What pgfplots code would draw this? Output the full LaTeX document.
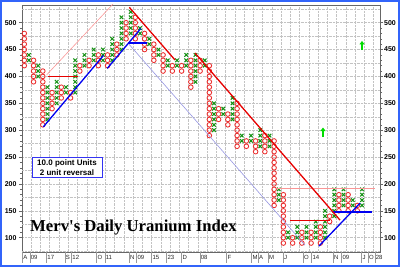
\documentclass[border=0pt]{standalone}
\usepackage{pgfplots}
\pgfplotsset{compat=1.18}
\usepackage{fontspec}
\setmainfont{Liberation Sans}
\newfontfamily\titlefont{Liberation Serif}
\usetikzlibrary{arrows.meta}
\definecolor{xgreen}{RGB}{20,145,20}
\definecolor{ored}{RGB}{235,45,45}
\definecolor{tred}{RGB}{230,0,0}
\definecolor{tblue}{RGB}{0,0,240}
\definecolor{lav}{RGB}{150,150,225}
\definecolor{pinkl}{RGB}{250,150,150}
\definecolor{frameblue}{RGB}{50,100,250}
\definecolor{gridc}{RGB}{195,195,195}
\definecolor{arrowg}{RGB}{0,220,0}
\tikzset{
  sepline/.style={draw=black!40, line width=0.5pt},
  datelab/.style={font=\fontsize{6}{6}\selectfont, anchor=west, inner sep=0.6pt, text=black!85},
  rlab/.style={font=\bfseries\fontsize{7}{7}\selectfont, anchor=west, inner sep=0pt},
}
\begin{document}
\begin{tikzpicture}
\begin{axis}[
  scale only axis,
  width=358pt, height=247pt,
  xmin=0.503, xmax=77.89, ymin=73.4, ymax=532.9,
  clip mode=individual,
  axis line style={draw=black!60, line width=0.6pt},
  xtick={0.5,2.5,...,76.5}, xticklabels={}, xtick style={draw=none},
  xmajorgrids, ymajorgrids,
  major grid style={gridc, densely dotted, line width=0.5pt},
  ytick={100,150,...,500}, minor y tick num=4,
  extra y ticks={75,125,...,525}, extra y tick labels={},
  extra y tick style={grid=major, tick style={draw=none}},
  tick align=outside, major tick length=3pt, minor tick length=2pt,
  tick style={black!60, line width=0.5pt},
  yticklabel pos=left,
  /pgf/number format/assume math mode=true,
  yticklabel style={font=\bfseries\fontsize{7}{7}\selectfont, xshift=1pt},
]
% O columns
\addplot[only marks, mark=o, mark size=2.3pt, mark options={ored, line width=0.85pt}] coordinates {
(1,420)(1,430)(1,440)(1,450)(1,460)(1,470)(1,480)
(3,390)(3,400)(3,410)(3,420)(3,430)
(5,310)(5,320)(5,330)(5,340)(5,350)(5,360)(5,370)(5,380)(5,390)(5,400)(5,410)
(7,340)(7,350)(7,360)(7,370)
(9,360)(9,370)(9,380)
(11,360)(11,370)
(13,410)(13,420)
(15,420)(15,430)
(17,420)(17,430)(17,440)
(19,420)(19,430)(19,440)
(21,440)(21,450)(21,460)
(23,470)(23,480)(23,490)(23,500)
(25,470)(25,480)(25,490)(25,500)(25,510)
(27,450)(27,460)(27,470)(27,480)
(29,430)(29,440)(29,450)(29,460)
(31,410)(31,420)(31,430)(31,440)
(33,410)(33,420)
(35,410)(35,420)
(37,380)(37,390)(37,400)(37,410)(37,420)(37,430)
(39,410)(39,420)(39,430)
(41,290)(41,300)(41,310)(41,320)(41,330)(41,340)(41,350)(41,360)(41,370)(41,380)(41,390)(41,400)(41,410)(41,420)
(43,320)(43,330)(43,340)
(45,310)(45,320)(45,330)
(47,270)(47,280)(47,290)(47,300)(47,310)(47,320)(47,330)(47,340)(47,350)
(49,270)(49,280)
(51,260)(51,270)(51,280)
(53,260)(53,270)(53,280)(53,290)
(55,160)(55,170)(55,180)(55,190)(55,200)(55,210)(55,220)(55,230)(55,240)(55,250)(55,260)(55,270)(55,280)
(57,90)(57,100)(57,110)(57,120)(57,130)(57,140)(57,150)(57,160)(57,170)(57,180)
(59,90)(59,100)
(61,90)(61,100)(61,110)
(63,90)(63,100)(63,110)
(65,90)(65,100)(65,110)(65,120)
(67,130)(67,140)
(69,150)(69,160)(69,170)(69,180)
(71,150)(71,160)(71,170)(71,180)
(73,150)(73,160)
};
% X columns
\addplot[only marks, mark=x, mark size=2.5pt, mark options={xgreen, line width=1.05pt}] coordinates {
(2,430)(2,440)
(4,400)(4,410)(4,420)
(6,320)(6,330)(6,340)(6,350)(6,360)(6,370)(6,380)
(8,350)(8,360)(8,370)(8,380)(8,390)
(10,370)(10,380)
(12,370)(12,380)(12,390)(12,400)(12,410)(12,420)(12,430)
(14,420)(14,430)(14,440)
(16,430)(16,440)(16,450)
(18,430)(18,440)(18,450)
(20,430)(20,440)(20,450)(20,460)(20,470)
(22,450)(22,460)(22,470)(22,480)(22,490)(22,500)(22,510)
(24,480)(24,490)(24,500)(24,510)(24,520)
(26,480)(26,490)
(28,460)(28,470)
(30,440)(30,450)
(32,420)(32,430)
(34,420)(34,430)
(36,420)(36,430)(36,440)
(38,390)(38,400)(38,410)(38,420)(38,430)(38,440)
(40,420)(40,430)
(42,300)(42,310)(42,320)(42,330)(42,340)(42,350)
(44,330)(44,340)
(46,320)(46,330)(46,340)(46,350)(46,360)
(48,280)(48,290)
(50,280)(50,290)
(52,270)(52,280)(52,290)(52,300)
(54,270)(54,280)(54,290)
(56,170)(56,180)(56,190)
(58,100)(58,110)
(60,100)(60,110)(60,120)
(62,100)(62,110)(62,120)
(64,100)(64,110)(64,120)(64,130)
(66,100)(66,110)(66,120)(66,130)(66,140)(66,150)
(68,140)(68,150)(68,160)(68,170)(68,180)(68,190)
(70,160)(70,170)(70,180)(70,190)
(72,160)(72,170)
(74,160)(74,170)(74,180)(74,190)
};
% trend lines
\addplot[pinkl, line width=0.6pt] coordinates {(5.84,403) (20.97,542)};
\addplot[pinkl, line width=0.6pt] coordinates {(55.63,192) (76.8,192)};
\addplot[lav, line width=0.6pt] coordinates {(23.42,462) (61.68,86)};
\addplot[tblue, line width=1.3pt] coordinates {(5.1,306) (18.1,439)};
\addplot[tblue, line width=1.3pt] coordinates {(18.94,415) (26.16,489)};
\addplot[tblue, line width=1.3pt] coordinates {(23.42,462) (27.46,462)};
\addplot[tblue, line width=1.3pt] coordinates {(64.7,84.5) (73.6,164.5)};
\addplot[tblue, line width=1.3pt] coordinates {(67.8,148) (76.2,148)};
\addplot[tred, line width=1.3pt] coordinates {(6.19,400) (12.54,400)};
\addplot[tred, line width=1.3pt] coordinates {(23.70,528.6) (33.58,430.6)};
\addplot[tred, line width=1.3pt] coordinates {(37.9,443.6) (69.25,132.7)};
\addplot[tred, line width=1.3pt] coordinates {(58.4,132) (67.06,132)};
% signal arrows
\addplot[arrowg, line width=1.4pt, -{Triangle[width=5pt,length=3.5pt]}] coordinates {(65.57,287) (65.57,305)};
\addplot[arrowg, line width=1.4pt, -{Triangle[width=5pt,length=3.5pt]}] coordinates {(74.0,449) (74.0,466)};
% right-hand tick labels
\foreach \v in {100,150,...,500} {
  \edef\tmp{\noexpand\node[rlab] at ([xshift=4pt]axis cs:77.89,\v) {\v};}\tmp
}
% date strip
\foreach \p/\l in {0.654/A,2.232/09,5.842/17,9.798/S,11.246/12,16.651/O,18.445/11,23.698/N,25.297/09,28.540/15,31.782/23,35.025/D,38.981/08,44.753/F,50.157/M,51.584/A,53.746/M,56.988/J,61.312/O,63.127/14,67.797/N,69.613/09,73.936/J,75.363/O,76.811/28} {
  \edef\tmp{\noexpand\draw[sepline] (axis cs:\p,73.4) -- ++(0pt,-11pt); \noexpand\node[datelab] at ([yshift=-5pt]axis cs:\p,73.4) {\l};}\tmp
}
% legend box and title
\draw[fill=white, draw=tblue!80, line width=0.7pt] ([xshift=10.5pt,yshift=74.7pt]rel axis cs:0,0) rectangle ([xshift=80.3pt,yshift=94.7pt]rel axis cs:0,0);
\node[font=\bfseries\fontsize{8}{8}\selectfont] at ([xshift=45pt,yshift=88.7pt]rel axis cs:0,0) {10.0 point Units};
\node[font=\bfseries\fontsize{8}{8}\selectfont] at ([xshift=45pt,yshift=79.2pt]rel axis cs:0,0) {2 unit reversal};
\node[anchor=base west, inner sep=0pt, font=\titlefont\bfseries\fontsize{16.7}{16.7}\selectfont] at ([xshift=8pt,yshift=20pt]rel axis cs:0,0) {Merv's Daily Uranium Index};
% outer frame
\draw[frameblue, line width=2pt] ([xshift=-21pt,yshift=-14pt]rel axis cs:0,0) rectangle ([xshift=19pt,yshift=4pt]rel axis cs:1,1);
\end{axis}
\end{tikzpicture}
\end{document}
